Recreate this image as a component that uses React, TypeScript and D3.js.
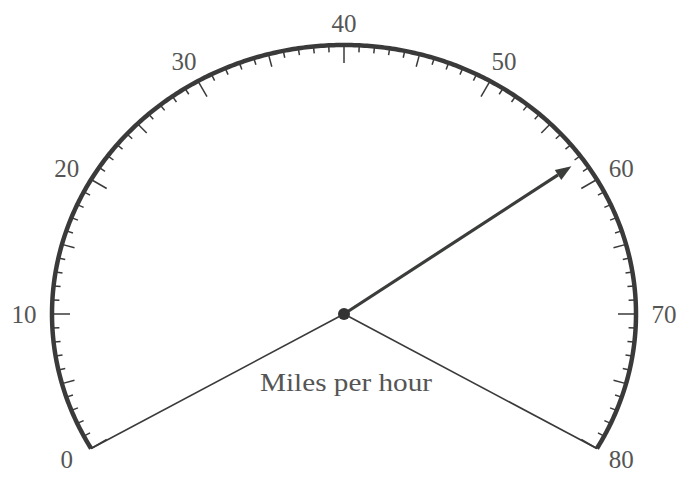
import React from 'react';
import * as d3 from 'd3';

const scaleMin = 0;
const scaleMax = 80;
const majorTicks = [0, 10, 20, 30, 40, 50, 60, 70, 80];
const tickLabels = ['0', '10', '20', '30', '40', '50', '60', '70', '80'];
const minorStep = 1;
const midStep = 5;
const needleValue = 58.3;
const title = 'Miles per hour';

const W = 685;
const H = 477;
const cx = 344;
const cy = 314;
const rx = 292;
const ry = 269;
const ink = '#3a3a3a';
const textInk = '#555555';
const serif = 'Liberation Serif, Times New Roman, Times, serif';

export default function App() {
  const angle = d3
    .scaleLinear()
    .domain([scaleMin, scaleMax])
    .range([(-120 * Math.PI) / 180, (120 * Math.PI) / 180]);

  const pt = (a: number, dr = 0, drY = dr): [number, number] => [
    cx + (rx + dr) * Math.sin(a),
    cy - (ry + drY) * Math.cos(a),
  ];

  const arcVals = d3.range(0, 481).map((i) => scaleMin + ((scaleMax - scaleMin) * i) / 480);
  const arcPath = d3.line()(arcVals.map((v) => pt(angle(v)))) || '';

  const ticks = d3.range(scaleMin, scaleMax + minorStep / 2, minorStep);
  const tickLen = (v: number) =>
    majorTicks.includes(v) ? 18 : v % midStep === 0 ? 13 : 7;

  const startPt = pt(angle(scaleMin));
  const endPt = pt(angle(scaleMax));

  const na = angle(needleValue);
  const tip = pt(na, -14, -12);
  const dx = tip[0] - cx;
  const dy = tip[1] - cy;
  const len = Math.hypot(dx, dy);
  const ux = dx / len;
  const uy = dy / len;
  const headLen = 16;
  const headHalf = 6;
  const base: [number, number] = [tip[0] - ux * headLen, tip[1] - uy * headLen];
  const head = [
    tip,
    [base[0] - uy * headHalf, base[1] + ux * headHalf],
    [base[0] + uy * headHalf, base[1] - ux * headHalf],
  ] as [number, number][];
  const headPath = d3.line()(head) + 'Z';

  return (
    <svg
      width={W}
      height={H}
      style={{ position: 'absolute', left: 0, top: 0, background: '#fff' }}
    >
      <rect x={0} y={0} width={W} height={H} fill="#fff" />
      <line x1={cx} y1={cy} x2={startPt[0]} y2={startPt[1]} stroke={ink} strokeWidth={1.6} />
      <line x1={cx} y1={cy} x2={endPt[0]} y2={endPt[1]} stroke={ink} strokeWidth={1.6} />
      {ticks.map((v) => {
        const a = angle(v);
        const p1 = pt(a);
        const p2 = pt(a, -tickLen(v));
        return (
          <line
            key={v}
            x1={p1[0]}
            y1={p1[1]}
            x2={p2[0]}
            y2={p2[1]}
            stroke={ink}
            strokeWidth={1.5}
          />
        );
      })}
      <path d={arcPath} fill="none" stroke={ink} strokeWidth={4.5} strokeLinecap="butt" />
      {majorTicks.map((v, i) => {
        const p = pt(angle(v), 28, 22);
        return (
          <text
            key={v}
            x={p[0]}
            y={p[1]}
            textAnchor="middle"
            dominantBaseline="central"
            fontFamily={serif}
            fontSize={25}
            fill={textInk}
          >
            {tickLabels[i]}
          </text>
        );
      })}
      <text
        x={cx + 2}
        y={382}
        textAnchor="middle"
        dominantBaseline="central"
        fontFamily={serif}
        fontSize={26}
        fill={textInk}
        textLength={172}
        lengthAdjust="spacingAndGlyphs"
      >
        {title}
      </text>
      <line x1={cx} y1={cy} x2={base[0]} y2={base[1]} stroke="#3a3d3a" strokeWidth={3.2} />
      <path d={headPath} fill="#3a3d3a" />
      <circle cx={cx} cy={cy} r={6} fill="#333" />
    </svg>
  );
}
